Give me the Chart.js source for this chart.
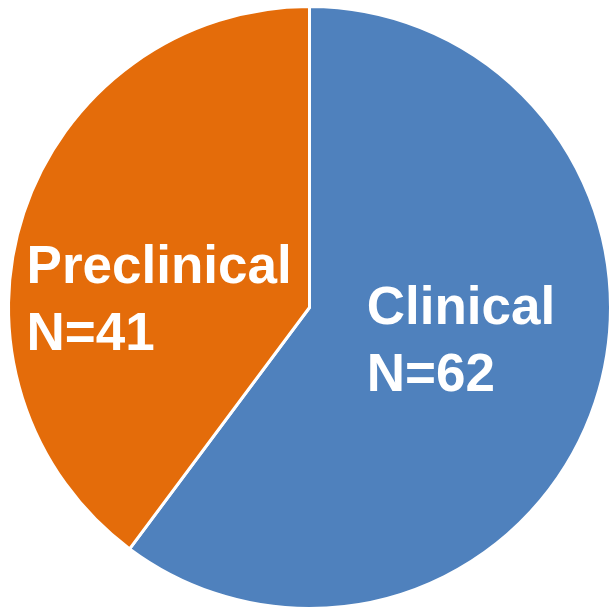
<!DOCTYPE html>
<html>
<head>
<meta charset="utf-8">
<script src="https://cdn.jsdelivr.net/npm/chart.js@4/dist/chart.umd.min.js"></script>
<style>
  html, body { margin: 0; padding: 0; background: #fff; }
  #chart { display: block; }
</style>
</head>
<body>
<canvas id="chart" width="613" height="610"></canvas>
<script>
// data
const categories = ["Clinical", "Preclinical"];
const counts = [62, 41];
const colors = ["#4F81BD", "#E46C0A"];

// label anchors as fraction of radius (left edge, first baseline)
const labelAnchors = [
  { fx: 0.19, fy: 0.056 },
  { fx: -0.94, fy: -0.08 },
];

// draw "Name / N=xx" inside each slice
const sliceLabels = {
  id: "sliceLabels",
  afterDatasetsDraw(chart) {
    const ctx = chart.ctx;
    const meta = chart.getDatasetMeta(0);
    ctx.save();
    ctx.fillStyle = "#fff";
    ctx.font = "bold 53px 'Liberation Sans', Arial, sans-serif";
    ctx.textAlign = "left";
    ctx.textBaseline = "alphabetic";
    meta.data.forEach((arc, i) => {
      const r = arc.outerRadius;
      const a = labelAnchors[i];
      const x = arc.x + a.fx * r;
      const y = arc.y + a.fy * r;
      ctx.fillText(categories[i], x, y);
      ctx.fillText("N=" + counts[i], x, y + 67);
    });
    ctx.restore();
  },
};

new Chart(document.getElementById("chart").getContext("2d"), {
  type: "pie",
  data: {
    labels: categories,
    datasets: [
      {
        data: counts,
        backgroundColor: colors,
        borderColor: "#fff",
        borderWidth: 3,
      },
    ],
  },
  options: {
    responsive: false,
    animation: false,
    devicePixelRatio: 1,
    layout: { padding: { left: 7, right: 1, top: 5, bottom: 0 } },
    plugins: {
      legend: { display: false },
      tooltip: { enabled: false },
      title: { display: false },
    },
  },
  plugins: [sliceLabels],
});
</script>
</body>
</html>
